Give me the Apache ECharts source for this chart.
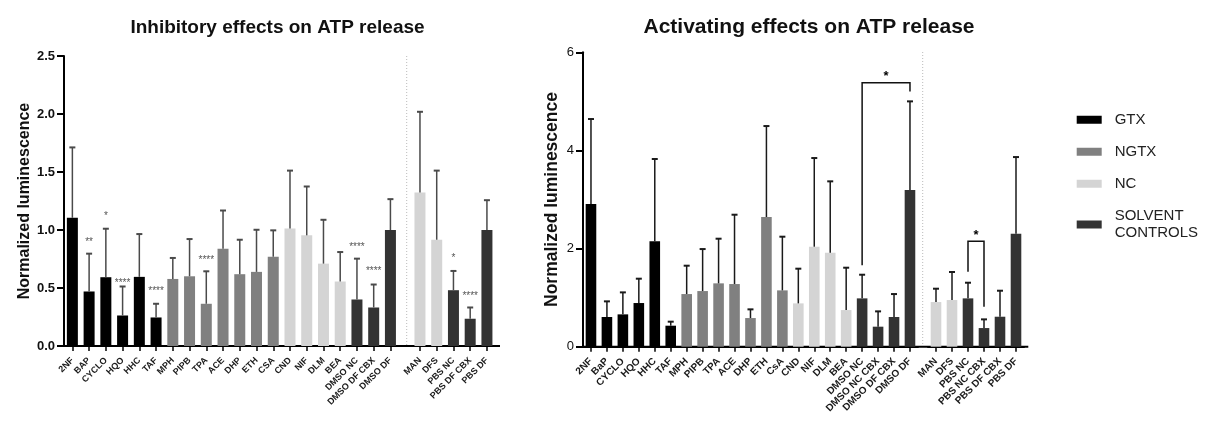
<!DOCTYPE html>
<html><head><meta charset="utf-8">
<script src="https://cdn.jsdelivr.net/npm/echarts@6/dist/echarts.min.js"></script>
<style>html,body{margin:0;padding:0;background:#fff}#c{width:1221px;height:429px}</style>
</head><body><div id="c"></div>
<script>
// ---------- Left panel: Inhibitory effects ----------
const leftCatsA = ['2NF','BAP','CYCLO','HQO','HHC','TAF','MPH','PIPB','TPA','ACE','DHP','ETH','CSA','CND','NIF','DLM','BEA','DMSO NC','DMSO DF CBX','DMSO DF'];
const leftClassA = ['GTX','GTX','GTX','GTX','GTX','GTX','NGTX','NGTX','NGTX','NGTX','NGTX','NGTX','NGTX','NC','NC','NC','NC','SOLVENT CONTROLS','SOLVENT CONTROLS','SOLVENT CONTROLS'];
const leftMeanA = [1.105,0.470,0.593,0.263,0.596,0.246,0.578,0.601,0.364,0.839,0.619,0.639,0.770,1.014,0.954,0.710,0.556,0.401,0.332,1.000];
const leftErrA  = [1.712,0.796,1.011,0.513,0.965,0.364,0.759,0.922,0.644,1.168,0.916,1.002,0.997,1.512,1.375,1.088,0.810,0.753,0.530,1.266];
const leftSigA  = ['','**','*','****','','****','','','****','','','','','','','','','****','****',''];
const leftSigYA = [null,0.91,1.14,0.56,null,0.49,null,null,0.76,null,null,null,null,null,null,null,null,0.87,0.66,null];

const leftCatsB = ['MAN','DFS','PBS NC','PBS DF CBX','PBS DF'];
const leftClassB = ['NC','NC','SOLVENT CONTROLS','SOLVENT CONTROLS','SOLVENT CONTROLS'];
const leftMeanB = [1.323,0.916,0.481,0.235,1.000];
const leftErrB  = [2.019,1.512,0.647,0.332,1.257];
const leftSigB  = ['','','*','****',''];
const leftSigYB = [null,null,0.77,0.45,null];

const leftTicks = [0, 2.5, 0.5];

// ---------- Right panel: Activating effects ----------
const rightCatsA = ['2NF','BaP','CYCLO','HQO','HHC','TAF','MPH','PIPB','TPA','ACE','DHP','ETH','CsA','CND','NIF','DLM','BEA','DMSO NC','DMSO NC CBX','DMSO DF CBX','DMSO DF'];
const rightClassA = ['GTX','GTX','GTX','GTX','GTX','GTX','NGTX','NGTX','NGTX','NGTX','NGTX','NGTX','NGTX','NC','NC','NC','NC','SOLVENT CONTROLS','SOLVENT CONTROLS','SOLVENT CONTROLS','SOLVENT CONTROLS'];
const rightMeanA = [2.908,0.605,0.659,0.890,2.147,0.428,1.073,1.134,1.291,1.277,0.584,2.643,1.148,0.883,2.038,1.916,0.747,0.985,0.408,0.605,3.193];
const rightErrA  = [4.640,0.924,1.107,1.386,3.825,0.510,1.651,1.990,2.201,2.690,0.761,4.497,2.242,1.590,3.845,3.370,1.610,1.467,0.720,1.073,5.000];

const rightCatsB = ['MAN','DFS','PBS NC','PBS NC CBX','PBS DF CBX','PBS DF'];
const rightClassB = ['NC','NC','SOLVENT CONTROLS','SOLVENT CONTROLS','SOLVENT CONTROLS','SOLVENT CONTROLS'];
const rightMeanB = [0.910,0.951,0.985,0.380,0.611,2.303];
const rightErrB  = [1.182,1.522,1.304,0.557,1.141,3.865];

// brackets: [fromIndex, toIndex, topValue, leftLegEnd, rightLegEnd]
const bracketA = [17, 20, 5.38, 1.66, 5.20];
const bracketB = [2, 3, 2.15, 1.53, 0.815];

const rightTicks = [0, 6, 2];

const classes = ['GTX','NGTX','NC','SOLVENT CONTROLS'];
const classColors = {'GTX':'#000000','NGTX':'#808080','NC':'#d4d4d4','SOLVENT CONTROLS':'#333333'};

const FONT = 'Liberation Sans, Arial, Helvetica, sans-serif';

const grids = [
  {left:64, top:56, width:334.8, height:290},
  {left:411.6, top:56, width:83.7, height:290},
  {left:583, top:52.3, width:334.95, height:294.4},
  {left:928, top:52.3, width:96, height:294.4}
];

const panels = [
  {cats:leftCatsA, cls:leftClassA, mean:leftMeanA, err:leftErrA, sig:leftSigA, sigY:leftSigYA, ticks:leftTicks, left:true, barW:11, errColor:'#4a4a4a', labelSize:9},
  {cats:leftCatsB, cls:leftClassB, mean:leftMeanB, err:leftErrB, sig:leftSigB, sigY:leftSigYB, ticks:leftTicks, left:true, barW:11, errColor:'#4a4a4a', labelSize:9},
  {cats:rightCatsA, cls:rightClassA, mean:rightMeanA, err:rightErrA, sig:null, sigY:null, ticks:rightTicks, left:false, barW:10.6, errColor:'#1a1a1a', labelSize:10, bracket:bracketA},
  {cats:rightCatsB, cls:rightClassB, mean:rightMeanB, err:rightErrB, sig:null, sigY:null, ticks:rightTicks, left:false, barW:10.6, errColor:'#1a1a1a', labelSize:10, bracket:bracketB}
];

const xAxes = [], yAxes = [], series = [];
panels.forEach((p, g) => {
  xAxes.push({
    type:'category', gridIndex:g, data:p.cats,
    axisLine:{show:true, lineStyle:{color:'#000', width:2}},
    axisTick:{show:true, alignWithLabel:true, length:5, lineStyle:{color:'#000', width:1.5}},
    axisLabel:{interval:0, rotate:45, margin:13, fontSize:p.labelSize, fontWeight:'bold', color:'#1a1a1a', fontFamily:FONT}
  });
  const isMain = (g === 0 || g === 2);
  yAxes.push({
    type:'value', gridIndex:g, min:p.ticks[0], max:p.ticks[1], interval:p.ticks[2],
    show:isMain,
    name: isMain ? 'Normalized luminescence' : '',
    nameLocation:'middle', nameGap: p.left ? 30 : 22,
    nameTextStyle:{fontSize: p.left ? 16 : 17.5, fontWeight:'bold', color:'#111', fontFamily:FONT},
    axisLine:{show:true, lineStyle:{color:'#000', width:2}},
    axisTick:{show:true, length:7, lineStyle:{color:'#000', width:2}},
    splitLine:{show:false},
    axisLabel:{margin:9, fontSize:13, fontWeight: p.left ? 'bold' : 'normal', color:'#111', fontFamily:FONT,
      formatter: v => p.left ? v.toFixed(1) : String(v)}
  });
  classes.forEach(c => {
    const d = p.mean.map((v, i) => p.cls[i] === c ? v : '-');
    if (d.every(v => v === '-')) return;
    series.push({
      type:'bar', name:c, xAxisIndex:g, yAxisIndex:g, data:d,
      barWidth:p.barW, barGap:'-100%', itemStyle:{color:classColors[c]},
      silent:true, animation:false, z:2
    });
  });
  series.push({
    type:'custom', xAxisIndex:g, yAxisIndex:g, z:3, silent:true, animation:false,
    data: p.mean.map((v, i) => [i, v, p.err[i]]),
    renderItem: (params, api) => {
      const i = params.dataIndex;
      const x = api.value(0);
      const p0 = api.coord([x, api.value(1)]);
      const p1 = api.coord([x, api.value(2)]);
      const ch = [
        {type:'line', shape:{x1:p0[0], y1:p0[1], x2:p1[0], y2:p1[1]}, style:{stroke:p.errColor, lineWidth:1.5}},
        {type:'line', shape:{x1:p1[0]-3, y1:p1[1], x2:p1[0]+3, y2:p1[1]}, style:{stroke:p.errColor, lineWidth:2}}
      ];
      if (p.sig && p.sig[i]) {
        const ps = api.coord([x, p.sigY[i]]);
        ch.push({type:'text', style:{text:p.sig[i], x:ps[0], y:ps[1]+2, align:'center', verticalAlign:'middle', font:'10px ' + FONT, fill:'#555'}});
      }
      return {type:'group', children:ch};
    }
  });
  if (p.bracket) {
    const b = p.bracket;
    series.push({
      type:'custom', xAxisIndex:g, yAxisIndex:g, z:4, silent:true, animation:false,
      data:[b],
      renderItem: (params, api) => {
        const a = api.coord([api.value(0), api.value(3)]);
        const t1 = api.coord([api.value(0), api.value(2)]);
        const t2 = api.coord([api.value(1), api.value(2)]);
        const e = api.coord([api.value(1), api.value(4)]);
        return {type:'group', children:[
          {type:'polyline', shape:{points:[a, t1, t2, e]}, style:{stroke:'#111', lineWidth:1.5, fill:null}},
          {type:'text', style:{text:'*', x:(t1[0]+t2[0])/2, y:t1[1]-6, align:'center', verticalAlign:'middle', font:'bold 13px ' + FONT, fill:'#000'}}
        ]};
      }
    });
  }
});

const chart = echarts.init(document.getElementById('c'), null, {renderer:'canvas'});
chart.setOption({
  animation:false,
  backgroundColor:'#fff',
  textStyle:{fontFamily:FONT},
  title:[
    {text:'Inhibitory effects on ATP release', left:272.5, top:13, textAlign:'center', textStyle:{fontSize:19, fontWeight:'bold', color:'#111', fontFamily:FONT}},
    {text:'Activating effects on ATP release', left:804, top:12, textAlign:'center', textStyle:{fontSize:21, fontWeight:'bold', color:'#111', fontFamily:FONT}}
  ],
  legend:{
    orient:'vertical', left:1076.7, top:111, padding:0, itemWidth:25, itemHeight:8, itemGap:14.5,
    icon:'rect', selectedMode:false, data:classes,
    formatter: n => n === 'SOLVENT CONTROLS' ? 'SOLVENT\nCONTROLS' : n,
    textStyle:{fontSize:15, lineHeight:17.5, color:'#222', fontFamily:FONT, padding:[0,0,0,8]}
  },
  grid: grids.map(g => Object.assign({outerBoundsMode:'none', containLabel:false}, g)),
  xAxis:xAxes,
  yAxis:yAxes,
  series:series,
  graphic:[
    {type:'line', silent:true, shape:{x1:63.3, y1:346, x2:500, y2:346}, style:{stroke:'#000', lineWidth:2}},
    {type:'line', silent:true, shape:{x1:582.3, y1:346.7, x2:1028.3, y2:346.7}, style:{stroke:'#000', lineWidth:2}},
    {type:'line', silent:true, shape:{x1:406.7, y1:56, x2:406.7, y2:345}, style:{stroke:'#bbb', lineWidth:1, lineDash:[1,2]}},
    {type:'line', silent:true, shape:{x1:922.7, y1:52, x2:922.7, y2:345.7}, style:{stroke:'#bbb', lineWidth:1, lineDash:[1,2]}}
  ]
});
</script>
</body></html>
